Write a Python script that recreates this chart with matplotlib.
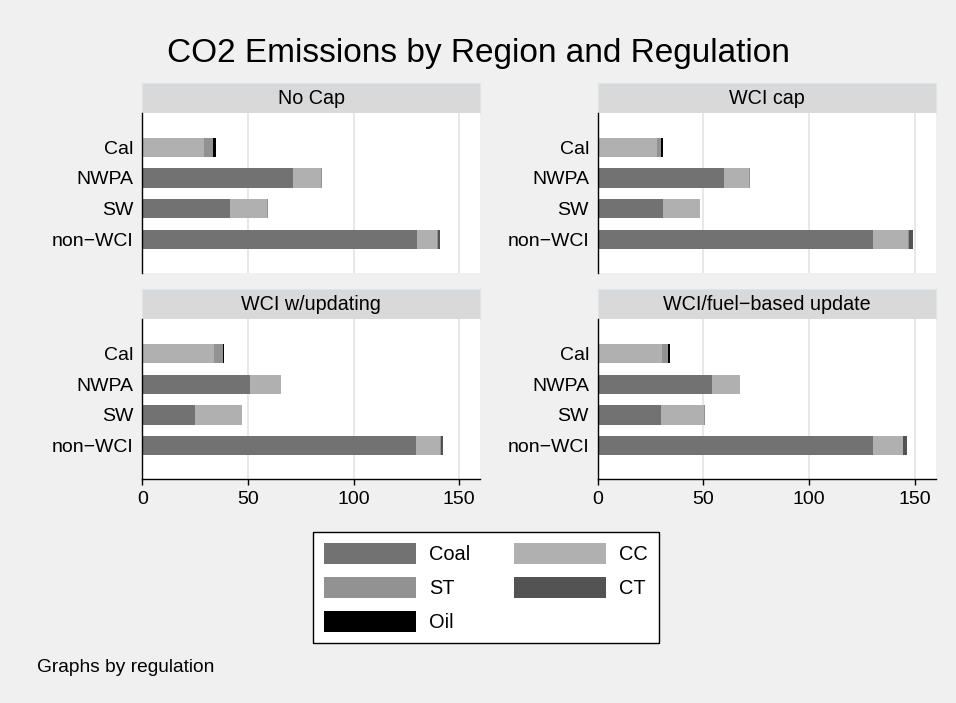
import matplotlib
matplotlib.use('Agg')
import numpy as np
import matplotlib.pyplot as plt
from matplotlib.patches import Patch

plt.rcParams['font.family'] = ['Liberation Sans', 'DejaVu Sans']

regions = ['Cal', 'NWPA', 'SW', 'non\u2212WCI']
scenarios = ['No Cap', 'WCI cap', 'WCI w/updating', 'WCI/fuel\u2212based update']
fuels = ['Coal', 'CC', 'ST', 'CT', 'Oil']
fuel_colors = ['#727272', '#b0b0b0', '#929292', '#535353', '#000000']

# values per scenario, region order: Cal, NWPA, SW, non-WCI
coal = [[0, 71.3, 41.7, 129.9],
        [0, 59.8, 31.0, 130.1],
        [0, 51.0, 24.9, 129.7],
        [0, 54.1, 30.2, 130.1]]
cc = [[29.2, 13.3, 17.3, 9.8],
      [28.0, 12.0, 17.2, 16.8],
      [33.9, 14.5, 22.1, 11.4],
      [30.4, 13.1, 20.1, 14.2]]
st = [[4.4, 0.3, 0.3, 0.2],
      [2.2, 0.3, 0.3, 0.6],
      [4.1, 0.3, 0.3, 0.2],
      [3.0, 0.3, 0.3, 0.3]]
ct = [[0, 0, 0, 0.8],
      [0, 0, 0, 1.9],
      [0, 0, 0, 0.9],
      [0, 0, 0, 1.6]]
oil = [[1.1, 0, 0, 0],
       [0.9, 0, 0, 0],
       [0.8, 0, 0, 0],
       [0.6, 0, 0, 0]]
series = [coal, cc, st, ct, oil]
xticks = [0, 50, 100, 150]

W, H = 956, 703
bg = '#f0f0f0'
fig = plt.figure(figsize=(W / 100, H / 100), dpi=100, facecolor=bg)


def px_axes(x0, y0, x1, y1):
    return fig.add_axes([x0 / W, 1 - y1 / H, (x1 - x0) / W, (y1 - y0) / H])


cols = [(142.3, 480.3), (597.7, 935.7)]
rows = [(83.3, 112.7, 272.7), (289.3, 319.3, 479.0)]

for k, name in enumerate(scenarios):
    r, c = divmod(k, 2)
    x0, x1 = cols[c]
    s0, s1, p1 = rows[r]

    # strip
    sa = px_axes(x0, s0, x1, s1)
    sa.set_facecolor('#d9d9d9')
    sa.set_xticks([])
    sa.set_yticks([])
    for sp in sa.spines.values():
        sp.set_color('#dde5ea')
        sp.set_linewidth(0.8)
    sa.text(0.5, 0.5, name, ha='center', va='center', fontsize=14.2,
            transform=sa.transAxes)

    ax = px_axes(x0, s1, x1, p1)
    ax.set_facecolor('white')
    y = np.arange(len(regions))
    left = np.zeros(len(regions))
    for vals, col in zip(series, fuel_colors):
        v = np.array(vals[k])
        ax.barh(y, v, left=left, height=0.63, color=col, linewidth=0)
        left += v
    ax.set_xlim(0, 160)
    ax.set_ylim(4.095, -1.13)
    ax.set_yticks(y)
    ax.set_yticklabels(regions)
    ax.tick_params(axis='y', length=0, pad=6.3, labelsize=14)
    ax.set_xticks(xticks)
    ax.grid(axis='x', color='#e6e6e6', linewidth=1.3)
    ax.set_axisbelow(True)
    ax.spines['top'].set_visible(False)
    ax.spines['right'].set_visible(False)
    ax.spines['left'].set_linewidth(1.0)
    if r == 0:
        ax.spines['bottom'].set_visible(False)
        ax.tick_params(axis='x', length=0, labelbottom=False)
    else:
        ax.spines['bottom'].set_linewidth(1.0)
        ax.tick_params(axis='x', length=4.3, width=1.0, pad=4, labelsize=14)

fig.text(478 / W, 1 - 61.7 / H, 'CO2 Emissions by Region and Regulation',
         ha='center', va='baseline', fontsize=24)

handles = [Patch(facecolor=col, edgecolor='none') for col in fuel_colors]
order = [0, 2, 4, 1, 3]
leg = fig.legend([handles[i] for i in order], [fuels[i] for i in order],
                 ncol=2, loc='center',
                 bbox_to_anchor=(486 / W, 1 - 587.5 / H),
                 fontsize=14.4, handlelength=4.6, handleheight=1.25,
                 labelspacing=0.64, handletextpad=0.65, columnspacing=2.2,
                 borderpad=0.55, fancybox=False, framealpha=1)
leg.get_frame().set_edgecolor('black')
leg.get_frame().set_linewidth(1.0)

fig.text(37 / W, 1 - 672.3 / H, 'Graphs by regulation', ha='left',
         va='baseline', fontsize=13.8)

fig.savefig('out.png', dpi=100, facecolor=bg)
